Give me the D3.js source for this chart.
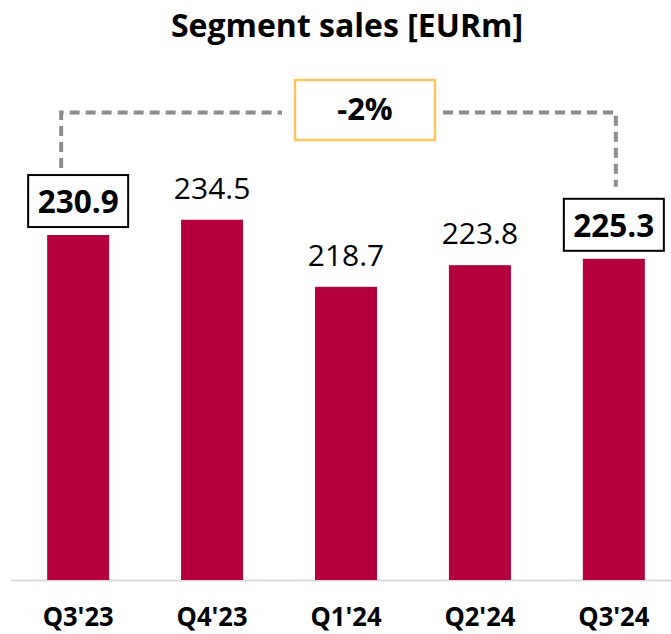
<!DOCTYPE html>
<html>
<head>
<meta charset="utf-8">
<script src="https://cdn.jsdelivr.net/npm/d3@7"></script>
<style>
  html, body { margin: 0; padding: 0; background: #fff; }
  svg { display: block; font-family: "Open Sans", "Noto Sans", sans-serif; }
</style>
</head>
<body>
<svg id="chart" width="671" height="634"></svg>
<script>
const categories = ["Q3'23", "Q4'23", "Q1'24", "Q2'24", "Q3'24"];
const values = [230.9, 234.5, 218.7, 223.8, 225.3];
const highlighted = [true, false, false, false, true];
const changeLabel = "-2%";
const title = "Segment sales [EURm]";

const W = 671, H = 634;
const svg = d3.select("#chart");
const barColor = "#B4003C";

const x = d3.scaleBand().domain(categories).range([11, 681]).paddingInner(0.537).paddingOuter(0.27);
const y = d3.scaleLinear().domain([149.6, 250]).range([580, 154]);

// title
svg.append("text")
  .attr("x", 347).attr("y", 37)
  .attr("text-anchor", "middle")
  .attr("font-size", 32).attr("font-weight", 700)
  .attr("fill", "#000")
  .text(title);

// axis baseline
svg.append("line")
  .attr("x1", 11).attr("x2", 671)
  .attr("y1", 580.5).attr("y2", 580.5)
  .attr("stroke", "#d9d9d9").attr("stroke-width", 2);

// bars
svg.append("g").selectAll("rect")
  .data(values)
  .join("rect")
  .attr("x", (d, i) => x(categories[i]))
  .attr("width", x.bandwidth())
  .attr("y", d => y(d))
  .attr("height", d => 580 - y(d))
  .attr("fill", barColor);

// value labels (plain)
svg.append("g").selectAll("text")
  .data(values.map((v, i) => ({v, i})).filter(d => !highlighted[d.i]))
  .join("text")
  .attr("x", d => x(categories[d.i]) + x.bandwidth() / 2)
  .attr("y", d => y(d.v) - 21)
  .attr("text-anchor", "middle")
  .attr("font-size", 30)
  .attr("fill", "#000")
  .text(d => d.v.toFixed(1));

// boxed labels
const boxW = 100, boxH = 52;
const boxed = values.map((v, i) => ({v, i})).filter(d => highlighted[d.i]);
const bg = svg.append("g").selectAll("g").data(boxed).join("g");
bg.append("rect")
  .attr("x", d => x(categories[d.i]) + x.bandwidth() / 2 - boxW / 2)
  .attr("y", d => y(d.v) - 8 - boxH)
  .attr("width", boxW).attr("height", boxH)
  .attr("fill", "#fff").attr("stroke", "#000").attr("stroke-width", 2);
bg.append("text")
  .attr("x", d => x(categories[d.i]) + x.bandwidth() / 2)
  .attr("y", d => y(d.v) - 8 - 14)
  .attr("text-anchor", "middle")
  .attr("font-size", 33).attr("font-weight", 700)
  .attr("textLength", 81).attr("lengthAdjust", "spacingAndGlyphs")
  .attr("fill", "#000")
  .text(d => d.v.toFixed(1));

// bracket
const lineY = 112.5;
const first = boxed[0], last = boxed[boxed.length - 1];
const lx = x(categories[first.i]) + 14;
const rx = x(categories[last.i]) + 33;
const dash = { stroke: "#8c8c8c", "stroke-width": 4, "stroke-dasharray": "10 6" };
function dashed(pathD) {
  const p = svg.append("path").attr("d", pathD).attr("fill", "none");
  Object.entries(dash).forEach(([k, v]) => p.attr(k, v));
}
dashed(`M${lx},${y(first.v) - 8 - boxH - 7} V${lineY} H282`);
dashed(`M443,${lineY} H${rx} V${y(last.v) - 8 - boxH - 12}`);

// change box
svg.append("rect")
  .attr("x", 295).attr("y", 80).attr("width", 140).attr("height", 60)
  .attr("fill", "#fff").attr("stroke", "#FFC65C").attr("stroke-width", 2.5);
svg.append("text")
  .attr("x", 365).attr("y", 120)
  .attr("text-anchor", "middle")
  .attr("font-size", 31).attr("font-weight", 700)
  .attr("fill", "#000")
  .text(changeLabel);

// x axis labels
svg.append("g").selectAll("text")
  .data(categories)
  .join("text")
  .attr("x", d => x(d) + x.bandwidth() / 2)
  .attr("y", 626)
  .attr("text-anchor", "middle")
  .attr("font-size", 26).attr("font-weight", 700)
  .attr("textLength", 71).attr("lengthAdjust", "spacingAndGlyphs")
  .attr("fill", "#000")
  .text(d => d);
</script>
</body>
</html>
